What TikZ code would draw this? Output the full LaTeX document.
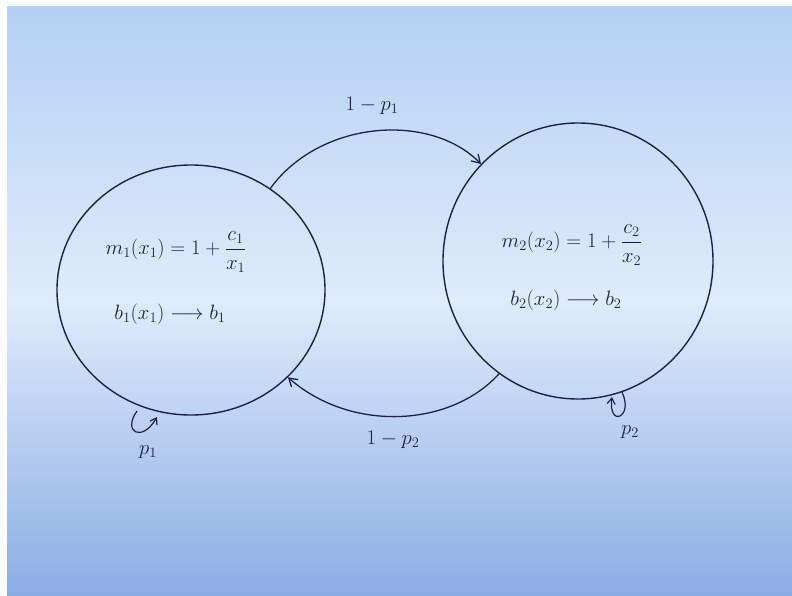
\documentclass[tikz,border=0pt]{standalone}
\usetikzlibrary{shapes.geometric,arrows.meta}
\definecolor{ink}{RGB}{28,32,78}
\definecolor{papertop}{RGB}{180,208,242}
\definecolor{papermid}{RGB}{222,236,252}
\definecolor{paperbot}{RGB}{140,172,228}
\tikzset{
  state/.style={ellipse, draw=ink, line width=1.4pt},
  conn/.style={draw=ink, line width=1.3pt, -{Straight Barb[length=8pt,width=10pt]}},
  loopc/.style={draw=ink, line width=1.2pt, -{Straight Barb[length=6pt,width=8pt]}},
  lbl/.style={text=ink, font=\fontsize{21}{25}\selectfont},
  eq/.style={text=ink, font=\fontsize{21}{25}\selectfont}
}
\begin{document}
\begin{tikzpicture}[x=1pt,y=-1pt]
\useasboundingbox (0,0) rectangle (792,595);
\fill[white] (0,0) rectangle (792,595);
\shade[top color=papertop, bottom color=paperbot, middle color=papermid] (7,6) rectangle (792,595);

\node[state, minimum width=268pt, minimum height=250pt] (c1) at (191,290) {};
\node[state, minimum width=270pt, minimum height=276pt] (c2) at (578,261) {};

\node[eq] (e1) at (176,252) {$m_1(x_1) = 1 + \displaystyle\frac{c_1}{x_1}$};
\node[eq] (f1) at (170,314) {$b_1(x_1) \longrightarrow b_1$};
\node[eq] (e2) at (572,245) {$m_2(x_2) = 1 + \displaystyle\frac{c_2}{x_2}$};
\node[eq] (f2) at (566,300) {$b_2(x_2) \longrightarrow b_2$};

\draw[conn] (c1.52) .. controls (320,120) and (430,112) .. (c2.135);
\draw[conn] (c2.235) .. controls (450,428) and (350,432) .. (c1.318);

\node[lbl] (t1) at (372,106) {$1 - p_1$};
\node[lbl] (t2) at (393,440) {$1 - p_2$};

\coordinate (l1a) at (137,411);
\coordinate (l1b) at (157,417);
\draw[loopc] (l1a) .. controls (122,432) and (142,443) .. (l1b);
\node[lbl] (p1) at (148,452) {$p_1$};

\coordinate (l2a) at (622,392);
\coordinate (l2b) at (612,397);
\draw[loopc] (l2a) .. controls (634,418) and (608,428) .. (l2b);
\node[lbl] (p2) at (630,432) {$p_2$};
\end{tikzpicture}
\end{document}
